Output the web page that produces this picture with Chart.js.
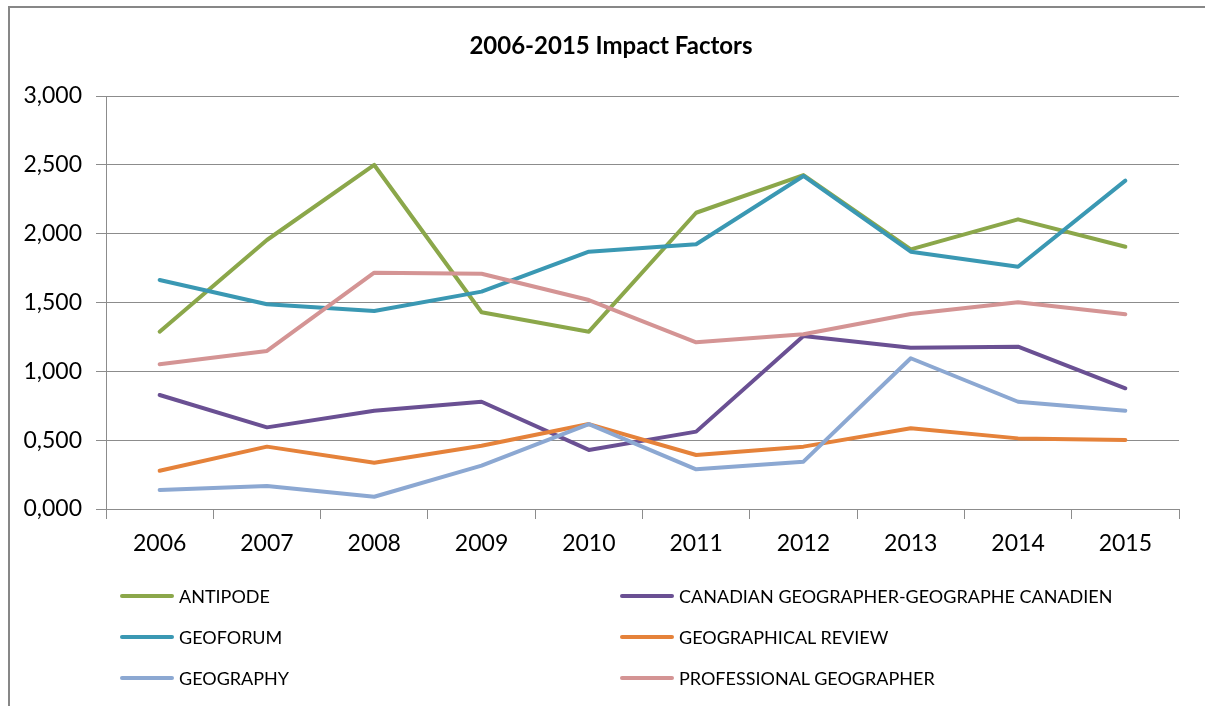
<!DOCTYPE html>
<html>
<head>
<meta charset="utf-8">
<script src="https://cdn.jsdelivr.net/npm/chart.js@4/dist/chart.umd.min.js"></script>
<style>
  html, body { margin: 0; padding: 0; background: #fff; }
  #wrap { position: relative; width: 1205px; height: 706px; overflow: hidden; }
  #frame { position: absolute; left: 8px; top: 6px; width: 1300px; height: 800px; border: 2px solid #878787; box-sizing: border-box; }
  #c { position: absolute; left: 0; top: 0; }
  #title { position: absolute; left: 411px; width: 400px; top: 31px; height: 28px; line-height: 28px; text-align: center;
           font-family: Lato, "Liberation Sans", sans-serif; font-size: 24px; font-weight: bold; color: #000; white-space: nowrap; }
  .lg { position: absolute; font-family: Lato, "Liberation Sans", sans-serif; font-size: 18px; color: #000; white-space: nowrap; }
  .lg .sw { position: absolute; height: 4px; border-radius: 2px; }
  .lg .tx { position: absolute; line-height: 20px; }
</style>
</head>
<body>
<div id="wrap">
  <div id="frame"></div>
  <canvas id="c" width="1205" height="706"></canvas>
  <div id="title">2006-2015 Impact Factors</div>
  <div id="legend"></div>
</div>
<script>
const years = ['2006','2007','2008','2009','2010','2011','2012','2013','2014','2015'];
const seriesNames = ['ANTIPODE','CANADIAN GEOGRAPHER-GEOGRAPHE CANADIEN','GEOFORUM','GEOGRAPHICAL REVIEW','GEOGRAPHY','PROFESSIONAL GEOGRAPHER'];
const antipode     = [1.288, 1.954, 2.499, 1.429, 1.288, 2.152, 2.426, 1.886, 2.104, 1.905];
const canadian     = [0.828, 0.593, 0.714, 0.779, 0.429, 0.562, 1.257, 1.172, 1.179, 0.877];
const geoforum     = [1.663, 1.487, 1.438, 1.579, 1.869, 1.923, 2.419, 1.869, 1.760, 2.385];
const geoReview    = [0.278, 0.453, 0.336, 0.460, 0.617, 0.392, 0.453, 0.586, 0.513, 0.501];
const geography    = [0.138, 0.167, 0.089, 0.315, 0.617, 0.288, 0.344, 1.095, 0.779, 0.714];
const professional = [1.051, 1.148, 1.717, 1.709, 1.518, 1.211, 1.269, 1.416, 1.501, 1.414];
const yTicks = [0, 0.5, 1, 1.5, 2, 2.5, 3];
const colors = ['#8BA74A', '#6A5093', '#3A98B3', '#E5823A', '#8CA8D2', '#D49494'];
const values = [antipode, canadian, geoforum, geoReview, geography, professional];

const datasets = values.map((v, i) => ({
  label: seriesNames[i],
  data: v,
  borderColor: colors[i],
  backgroundColor: colors[i],
  borderWidth: 4,
  pointRadius: 0,
  tension: 0,
  fill: false,
  order: values.length - i,
  borderCapStyle: 'round',
  borderJoinStyle: 'round'
}));

const gridColor = '#8C8C8C';
new Chart(document.getElementById('c'), {
  type: 'line',
  data: { labels: years, datasets },
  options: {
    responsive: false,
    animation: false,
    layout: { padding: { left: 10, right: 26, top: 96, bottom: 137 } },
    plugins: {
      legend: { display: false },
      tooltip: { enabled: false },
      title: { display: false }
    },
    scales: {
      x: {
        offset: true,
        grid: { display: true, drawOnChartArea: false, drawTicks: true, tickLength: 10, offset: true, color: gridColor, tickColor: gridColor },
        border: { display: true, color: gridColor, width: 1 },
        ticks: { color: '#000', font: { family: 'Lato, "Liberation Sans", sans-serif', size: 23 }, padding: 11, maxRotation: 0 },
        afterFit: s => { s.height = 60; }
      },
      y: {
        min: 0, max: 3,
        afterBuildTicks: s => { s.ticks = yTicks.map(v => ({ value: v })); },
        grid: { color: gridColor, tickLength: 10, tickColor: gridColor },
        border: { display: true, color: gridColor, width: 1 },
        ticks: {
          color: '#000',
          font: { family: 'Lato, "Liberation Sans", sans-serif', size: 23 },
          padding: 14,
          callback: v => Number(v).toFixed(3).replace('.', ',')
        },
        afterFit: s => { s.width = 96; }
      }
    }
  }
});

// two-column legend
const legend = document.getElementById('legend');
const legendPos = [
  { x: 120, y: 596 }, { x: 620, y: 596 },
  { x: 120, y: 637 }, { x: 620, y: 637 },
  { x: 120, y: 678 }, { x: 620, y: 678 }
];
seriesNames.forEach((name, i) => {
  const p = legendPos[i];
  const item = document.createElement('div');
  item.className = 'lg';
  item.style.left = p.x + 'px';
  item.style.top = (p.y - 10) + 'px';
  const sw = document.createElement('div');
  sw.className = 'sw';
  sw.style.left = '0px'; sw.style.top = '8px'; sw.style.width = '54px';
  sw.style.background = colors[i];
  const tx = document.createElement('div');
  tx.className = 'tx';
  tx.style.left = '59px'; tx.style.top = '0px';
  tx.textContent = name;
  item.appendChild(sw); item.appendChild(tx);
  legend.appendChild(item);
});
</script>
</body>
</html>
